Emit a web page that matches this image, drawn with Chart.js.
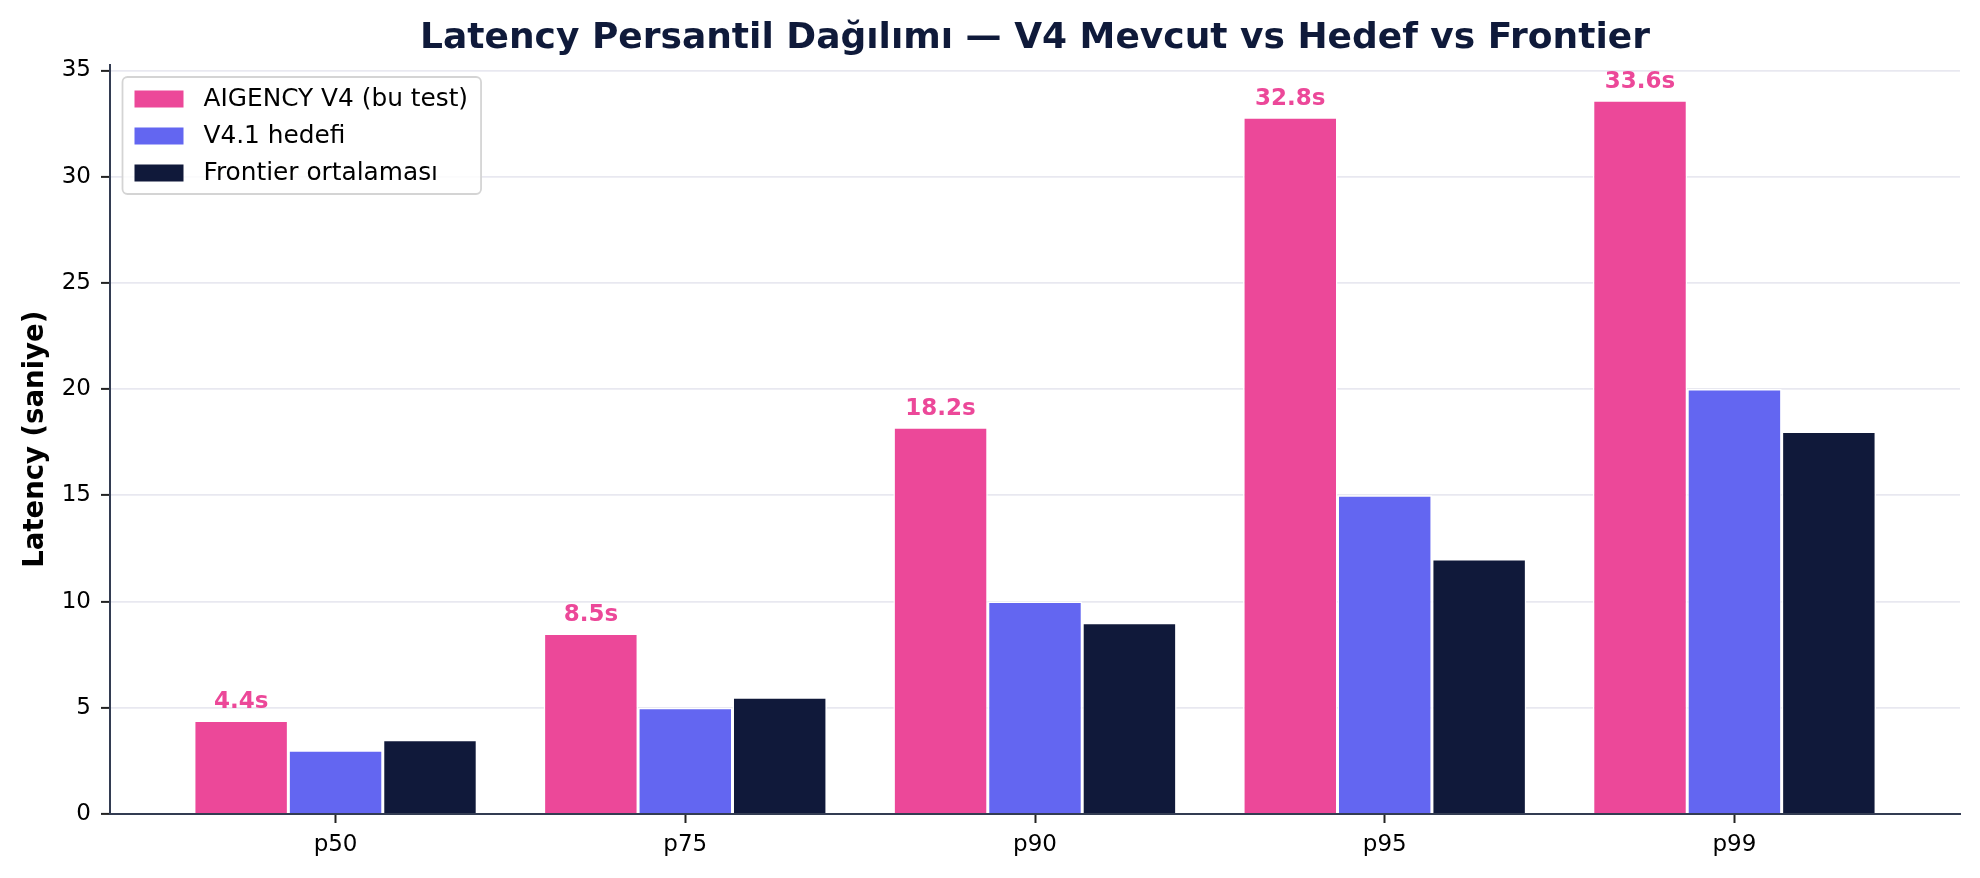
<!DOCTYPE html>
<html lang="tr">
<head>
<meta charset="UTF-8">
<title>Latency Persantil Dağılımı</title>
<style>
  html, body { margin: 0; padding: 0; background: #fff; }
  #wrap { width: 1980px; height: 878px; }
</style>
</head>
<body>
<div id="wrap"><canvas id="chart" width="1980" height="878"></canvas></div>
<script src="https://cdn.jsdelivr.net/npm/chart.js@4.4.0/dist/chart.umd.min.js"></script>
<script>
// data
const categories = ['p50', 'p75', 'p90', 'p95', 'p99'];
const aigencyV4 = [4.4, 8.5, 18.2, 32.8, 33.6];
const v41Target = [3.0, 5.0, 10.0, 15.0, 20.0];
const frontierAvg = [3.5, 5.5, 9.0, 12.0, 18.0];
const yTicks = [0, 5, 10, 15, 20, 25, 30, 35];
const seriesNames = ['AIGENCY V4 (bu test)', 'V4.1 hedefi', 'Frontier ortalaması'];

const PINK = '#EC4899', BLUE = '#6366F1', NAVY = '#10193a';
const FONT = "'DejaVu Sans', sans-serif";

function toPoints(arr) {
  return arr.map((v, i) => ({ x: i, y: v }));
}

// value labels above the pink bars
const valueLabels = {
  id: 'valueLabels',
  afterDatasetsDraw(chart) {
    const ctx = chart.ctx;
    const meta = chart.getDatasetMeta(0);
    const y = chart.scales.y;
    ctx.save();
    ctx.fillStyle = PINK;
    ctx.font = "bold 23px " + FONT;
    ctx.textAlign = 'center';
    ctx.textBaseline = 'bottom';
    meta.data.forEach((bar, i) => {
      const v = aigencyV4[i];
      ctx.fillText(v.toFixed(1) + 's', bar.x, y.getPixelForValue(v + 0.5) + 4);
    });
    ctx.restore();
  }
};

// matplotlib-like legend box in the upper left of the plot area
const boxLegend = {
  id: 'boxLegend',
  afterDraw(chart) {
    const ctx = chart.ctx;
    const area = chart.chartArea;
    const fs = 24.8;
    const x0 = area.left + 12.5, y0 = area.top + 12.5;
    ctx.save();
    ctx.font = fs + 'px ' + FONT;
    let maxW = 0;
    chart.data.datasets.forEach(ds => { maxW = Math.max(maxW, ctx.measureText(ds.label).width); });
    const w = 12 + 49 + 20 + maxW + 13;
    const h = 117;
    ctx.beginPath();
    ctx.roundRect(x0, y0, w, h, 5);
    ctx.fillStyle = 'rgba(255,255,255,0.8)';
    ctx.fill();
    ctx.lineWidth = 1.8;
    ctx.strokeStyle = '#d4d4d4';
    ctx.stroke();
    ctx.textBaseline = 'middle';
    chart.data.datasets.forEach((ds, i) => {
      const cy = y0 + 22 + i * 37;
      ctx.fillStyle = ds.backgroundColor;
      ctx.fillRect(x0 + 12, cy - 8.5, 49, 17);
      ctx.fillStyle = '#000';
      ctx.fillText(ds.label, x0 + 12 + 49 + 20, cy + 1);
    });
    ctx.restore();
  }
};

const barStyle = { borderColor: '#ffffff', borderWidth: 1.5, categoryPercentage: 0.81, barPercentage: 1.0 };

new Chart(document.getElementById('chart').getContext('2d'), {
  type: 'bar',
  data: {
    datasets: [
      Object.assign({ label: seriesNames[0], data: toPoints(aigencyV4), backgroundColor: PINK }, barStyle),
      Object.assign({ label: seriesNames[1], data: toPoints(v41Target), backgroundColor: BLUE }, barStyle),
      Object.assign({ label: seriesNames[2], data: toPoints(frontierAvg), backgroundColor: NAVY }, barStyle)
    ]
  },
  options: {
    responsive: false,
    devicePixelRatio: 1,
    animation: false,
    layout: { padding: { left: 0, right: 20, top: 0, bottom: 0 } },
    plugins: {
      legend: { display: false },
      tooltip: { enabled: false },
      title: {
        display: true,
        fullSize: false,
        text: 'Latency Persantil Dağılımı — V4 Mevcut vs Hedef vs Frontier',
        color: '#0f1a3a',
        font: { family: FONT, size: 36, weight: 'bold', lineHeight: 1.2 },
        padding: { top: 17.5, bottom: 3.8 }
      }
    },
    scales: {
      x: {
        type: 'linear',
        min: -0.645,
        max: 4.645,
        offset: false,
        afterBuildTicks: axis => { axis.ticks = categories.map((c, i) => ({ value: i })); },
        afterFit: axis => { axis.height = 64; },
        ticks: {
          autoSkip: false,
          maxRotation: 0,
          padding: 8,
          color: '#000',
          font: { family: FONT, size: 23 },
          callback: v => categories[v]
        },
        grid: { offset: false, drawOnChartArea: false, drawTicks: true, tickLength: 9, tickColor: '#222', tickWidth: 2 },
        border: { display: true, color: '#333c52', width: 2 }
      },
      y: {
        min: 0,
        max: 35.28,
        afterBuildTicks: axis => { axis.ticks = yTicks.map(v => ({ value: v })); },
        afterFit: axis => { axis.width = 110; },
        ticks: {
          padding: 10,
          color: '#000',
          font: { family: FONT, size: 23 }
        },
        grid: { color: '#e8e8f0', lineWidth: 1.8, drawTicks: true, tickLength: 9, tickColor: '#222', tickWidth: 2 },
        border: { display: true, color: '#333c52', width: 2 },
        title: {
          display: true,
          text: 'Latency (saniye)',
          color: '#000',
          font: { family: FONT, size: 27.5, weight: 'bold', lineHeight: 1.2 },
          padding: { top: 19, bottom: 0 }
        }
      }
    }
  },
  plugins: [valueLabels, boxLegend]
});
</script>
</body>
</html>
